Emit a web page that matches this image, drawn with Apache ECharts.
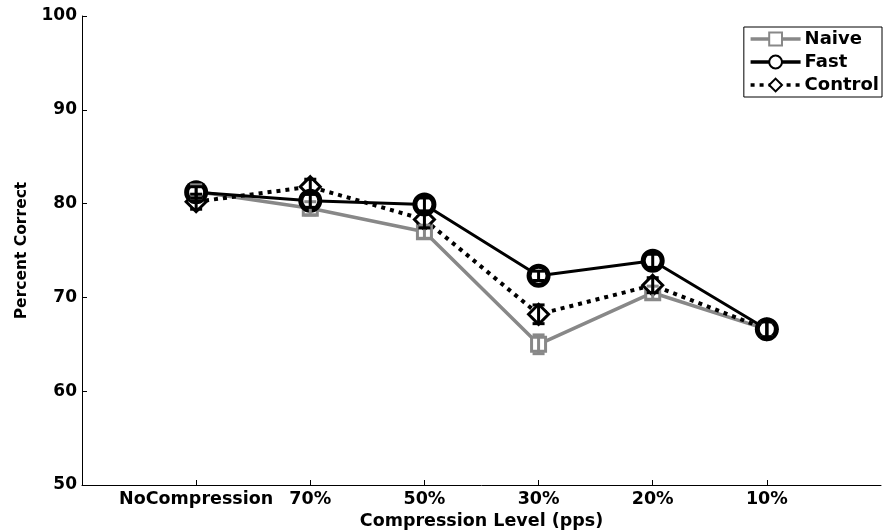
<!DOCTYPE html>
<html>
<head>
<meta charset="utf-8">
<script src="https://cdn.jsdelivr.net/npm/echarts@6/dist/echarts.min.js"></script>
<style>html,body{margin:0;padding:0;background:#fff}#c{width:889px;height:532px}</style>
</head>
<body>
<div id="c"></div>
<script>
var categories = ['NoCompression', '70%', '50%', '30%', '20%', '10%'];
var naive = [81.3, 79.5, 77.0, 65.0, 70.5, 66.6];
var naiveErr = [0.7, 0.7, 0.7, 1.0, 0.7, 0.8];
var fast = [81.2, 80.3, 79.9, 72.3, 73.9, 66.6];
var fastErr = [0.6, 0.7, 0.7, 0.5, 0.7, 0.9];
var control = [80.2, 81.8, 78.3, 68.2, 71.3, 66.6];
var controlErr = [0.8, 0.8, 0.9, 1.0, 0.8, 0.8];
var yTicks = [50, 60, 70, 80, 90, 100];

var chart = echarts.init(document.getElementById('c'));
function pts(v){ return v.map(function(y,i){ return [i+1, y]; }); }
function errData(v,e){ return v.map(function(y,i){ return [i+1, y-e[i], y+e[i]]; }); }
function errSeries(v,e,color){
  return {
    type:'custom', silent:true, z:5,
    data: errData(v,e),
    renderItem: function(params, api){
      var lo = api.coord([api.value(0), api.value(1)]);
      var hi = api.coord([api.value(0), api.value(2)]);
      var w = 6;
      var st = {stroke: color, lineWidth: 3};
      return {type:'group', children:[
        {type:'line', shape:{x1:lo[0],y1:lo[1],x2:hi[0],y2:hi[1]}, style:st},
        {type:'line', shape:{x1:lo[0]-w,y1:lo[1],x2:lo[0]+w,y2:lo[1]}, style:st},
        {type:'line', shape:{x1:hi[0]-w,y1:hi[1],x2:hi[0]+w,y2:hi[1]}, style:st}
      ]};
    }
  };
}
var font = '"DejaVu Sans", Verdana, sans-serif';
chart.setOption({
  animation:false,
  backgroundColor:'#fff',
  grid:{left:82, right:8, top:16, bottom:47, containLabel:false, outerBoundsMode:'none'},
  legend:{
    orient:'vertical', right:7, top:27,
    data:['Naive','Fast','Control'],
    itemWidth:50, itemHeight:16, itemGap:5,
    padding:[3,3,3,5],
    borderColor:'#000', borderWidth:1, borderRadius:0,
    lineStyle:{width:3.5},
    textStyle:{fontFamily:font, fontWeight:'bold', fontSize:18, color:'#000', padding:[0,0,0,-1]}
  },
  xAxis:{
    type:'value', min:0, max:7, interval:1,
    name:'Compression Level (pps)', nameLocation:'middle', nameGap:27,
    nameTextStyle:{fontFamily:font, fontWeight:'bold', fontSize:17.5, color:'#000'},
    axisLine:{lineStyle:{color:'#000', width:1}},
    axisTick:{inside:true, length:5, customValues:[1,2,3,4,5,6], lineStyle:{color:'#000'}},
    axisLabel:{customValues:[1,2,3,4,5,6], margin:5, fontFamily:font, fontWeight:'bold', fontSize:17.5, color:'#000',
      formatter:function(v){ return categories[v-1] || ''; }},
    splitLine:{show:false}
  },
  yAxis:{
    type:'value', min:yTicks[0], max:yTicks[yTicks.length-1], interval:10,
    name:'Percent Correct', nameLocation:'middle', nameGap:52, nameRotate:90,
    nameTextStyle:{fontFamily:font, fontWeight:'bold', fontSize:15.5, color:'#000'},
    axisLine:{show:true, lineStyle:{color:'#000', width:1}},
    axisTick:{show:true, inside:true, length:5, lineStyle:{color:'#000'}},
    axisLabel:{margin:5, fontFamily:font, fontWeight:'bold', fontSize:17, color:'#000'},
    splitLine:{show:false}
  },
  series:[
    {name:'Naive', type:'line', data:pts(naive), z:3,
      symbol:'rect', symbolSize:14,
      lineStyle:{color:'#888888', width:3.5},
      itemStyle:{color:'#fff', borderColor:'#888888', borderWidth:3}},
    {name:'Control', type:'line', data:pts(control), z:3,
      symbol:'diamond', symbolSize:20,
      lineStyle:{color:'#000', width:4, type:[4,5]},
      itemStyle:{color:'#fff', borderColor:'#000', borderWidth:3}},
    {name:'Fast', type:'line', data:pts(fast), z:4,
      symbol:'circle', symbolSize:19,
      lineStyle:{color:'#000', width:3},
      itemStyle:{color:'#fff', borderColor:'#000', borderWidth:5}},
    errSeries(naive, naiveErr, '#888888'),
    errSeries(control, controlErr, '#000'),
    errSeries(fast, fastErr, '#000')
  ]
});
</script>
</body>
</html>
